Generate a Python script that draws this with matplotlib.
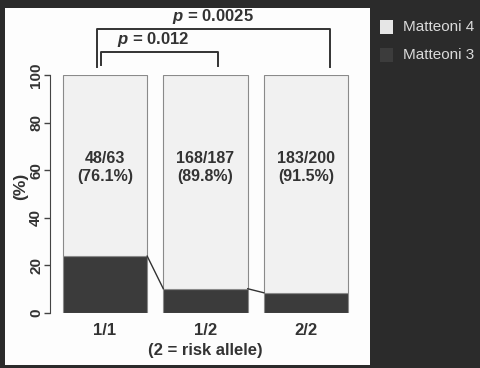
import numpy as np
import matplotlib
matplotlib.use("Agg")
import matplotlib.pyplot as plt
from matplotlib.patches import Rectangle

plt.rcParams['font.family'] = ['Liberation Sans', 'DejaVu Sans']
plt.rcParams['mathtext.fontset'] = 'custom'
plt.rcParams['mathtext.it'] = 'Liberation Sans:bold:italic'
plt.rcParams['mathtext.rm'] = 'Liberation Sans:bold'

genotypes = ['1/1', '1/2', '2/2']
m4_counts = ['48/63', '168/187', '183/200']
m4_pct = [76.1, 89.8, 91.5]
m3_pct = [100 - v for v in m4_pct]
p_labels = ['0.012', '0.0025']

bg = '#2b2b2b'
light = '#f1f1f1'
dark = '#3b3b3b'
edge = '#8a8a8a'
ink = '#333333'

fig = plt.figure(figsize=(4.8, 3.68), dpi=100, facecolor=bg)
fig.patches.append(Rectangle((5 / 480, 1 - 365 / 368), 365 / 480, 357 / 368,
                             transform=fig.transFigure, facecolor='#fdfdfd',
                             edgecolor='none', zorder=-5))

ax = fig.add_axes([50 / 480, 1 - 313 / 368, 310 / 480, 238 / 368])
ax.set_facecolor('none')
ax.set_zorder(2)
x = np.arange(len(genotypes))
w = 0.84
ax.bar(x, m3_pct, width=w, color=dark, edgecolor=edge, linewidth=0.8)
ax.bar(x, m4_pct, width=w, bottom=m3_pct, color=light, edgecolor=edge,
       linewidth=0.8)

# lines joining the dark segments
for i in range(len(x) - 1):
    ax.plot([x[i] + w / 2, x[i + 1] - w / 2], [m3_pct[i], m3_pct[i + 1]],
            color=ink, lw=1)

for i in range(len(x)):
    ax.text(x[i], 61, f"{m4_counts[i]}\n({m4_pct[i]}%)", ha='center',
            va='center', fontsize=11.5, fontweight='bold', color=ink,
            linespacing=1.25)
    ax.text(x[i], -7.2, genotypes[i], ha='center', va='center', fontsize=12,
            fontweight='bold', color=ink, clip_on=False)
ax.text(1, -15.8, '(2 = risk allele)', ha='center', va='center', fontsize=12,
        fontweight='bold', color=ink, clip_on=False)

# significance brackets
ax.plot([-0.04, -0.04, 1.12, 1.12], [104.2, 109.7, 109.7, 103.8], color=ink,
        lw=1.4, clip_on=False)
ax.plot([-0.08, -0.08, 2.24, 2.24], [103.4, 119.3, 119.3, 103.4], color=ink,
        lw=1.4, clip_on=False)
ax.text(0.48, 114.8, r'$p$ = ' + p_labels[0], ha='center', va='center',
        fontsize=12, fontweight='bold', color=ink, clip_on=False)
ax.text(1.07, 124.5, r'$p$ = ' + p_labels[1], ha='center', va='center',
        fontsize=12, fontweight='bold', color=ink, clip_on=False)

ax.set_xlim(-0.547, 2.537)
ax.set_ylim(0, 100)
ax.set_xticks([])
ax.set_yticks([0, 20, 40, 60, 80, 100])
ax.set_yticklabels(['0', '20', '40', '60', '80', '100'], rotation=90,
                   va='center', fontsize=11, fontweight='bold', color=ink)
ax.tick_params(axis='y', length=4, width=1, color='#444444', pad=1)
for s in ['top', 'right', 'bottom']:
    ax.spines[s].set_visible(False)
ax.spines['left'].set_color('#444444')
ax.spines['left'].set_bounds(0, 100)
ax.set_ylabel('(%)', fontsize=12.5, fontweight='bold', color=ink)
ax.yaxis.set_label_coords(-0.072, 0.53)

# legend on dark background
leg_names = ['Matteoni 4', 'Matteoni 3']
leg_cols = ['#e6e6e6', '#3c3c3c']
for k, (nm, c) in enumerate(zip(leg_names, leg_cols)):
    yc = 27 + k * 28
    fig.patches.append(Rectangle((380 / 480, 1 - (yc + 7) / 368), 13 / 480,
                                 14 / 368, transform=fig.transFigure,
                                 facecolor=c, edgecolor='none'))
    fig.text(403 / 480, 1 - yc / 368, nm, ha='left', va='center',
             fontsize=11, color='#dadada')

fig.savefig('out.png', dpi=100, facecolor=bg)
